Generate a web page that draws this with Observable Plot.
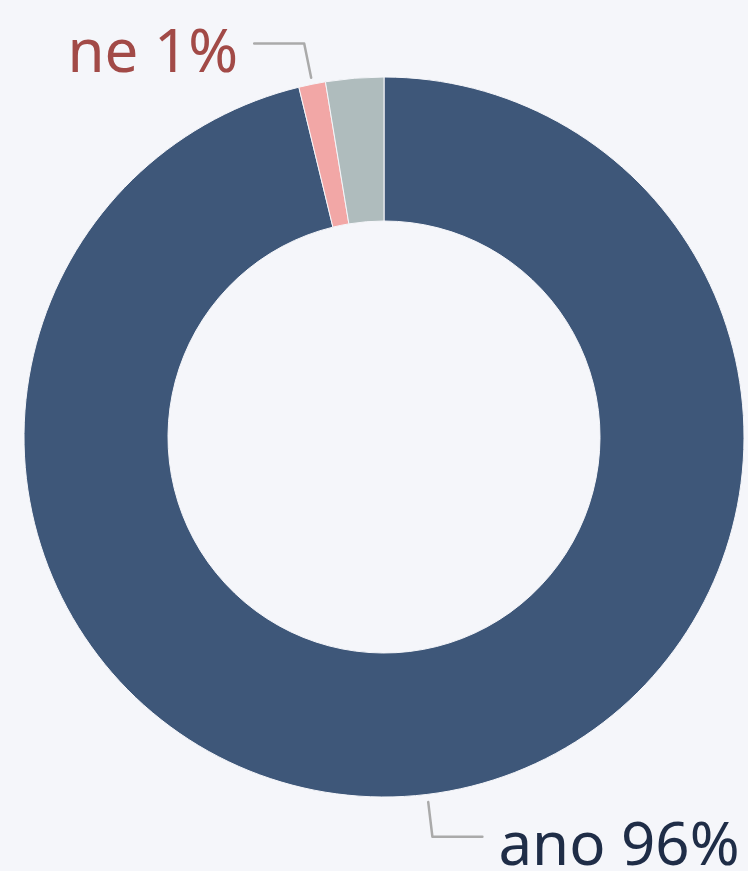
<!DOCTYPE html>
<html><head><meta charset="utf-8">
<script src="https://cdn.jsdelivr.net/npm/d3@7"></script>
<script src="https://cdn.jsdelivr.net/npm/@observablehq/plot@0.6"></script>
<style>html,body{margin:0;padding:0;background:#f5f6fa;overflow:hidden;}</style>
</head><body><div id="chart"></div>
<script>
// data
const categories = ["ano", "ne", "jiné"];
const values = [96.2, 1.2, 2.6];
const labels = ["ano 96%", "ne 1%", null];
const sliceColors = ["#3e5779", "#f2a7a6", "#afbcbd"];
const labelColors = ["#1f2d47", "#a24a47", null];

// layout
const W = 748, H = 871, CX = 384, CY = 437, R = 360, INNER = 0.6;
const bg = "#f5f6fa";

const rows = categories.map((c, i) => ({category: c, value: values[i], label: labels[i], color: sliceColors[i], labelColor: labelColors[i]}));
const arcs = d3.pie().sort(null).value(d => d.value)(rows);

// leader lines & label anchors (unit-radius coordinates, y up)
const R1 = 1.02, R2 = 1.117, HOR = 50 / R, GAP = 16 / R;
const leaders = [], texts = [];
arcs.forEach(a => {
  if (!a.data.label) return;
  const m = (a.startAngle + a.endAngle) / 2;
  const s = Math.sin(m), c = Math.cos(m), dir = s < 0 ? -1 : 1;
  const ex = R2 * s, ey = R2 * c;
  leaders.push({k: a.data.category, x: R1 * s, y: R1 * c});
  leaders.push({k: a.data.category, x: ex, y: ey});
  leaders.push({k: a.data.category, x: ex + dir * HOR, y: ey});
  texts.push({x: ex + dir * (HOR + GAP), y: ey, text: a.data.label, fill: a.data.labelColor, anchor: dir < 0 ? "end" : "start"});
});

function donut(index, scales, values, dimensions) {
  const sx = scales && typeof scales.x === "function" ? scales.x : (v => CX + v * R);
  const sy = scales && typeof scales.y === "function" ? scales.y : (v => CY - v * R);
  const cx = sx(0), cy = sy(0), r = sx(1) - sx(0);
  const arc = d3.arc().innerRadius(r * INNER).outerRadius(r);
  const g = d3.create("svg:g").attr("transform", `translate(${cx},${cy})`);
  g.selectAll("path").data(arcs).join("path")
    .attr("d", arc)
    .attr("fill", d => d.data.color)
    .attr("stroke", bg)
    .attr("stroke-width", 1);
  return g.node();
}

const plot = Plot.plot({
  width: W, height: H, margin: 0,
  style: {background: bg, fontFamily: "'Noto Sans', sans-serif"},
  x: {domain: [-CX / R, (W - CX) / R], range: [0, W], axis: null},
  y: {domain: [-(H - CY) / R, CY / R], range: [H, 0], axis: null},
  marks: [
    donut,
    Plot.line(leaders, {x: "x", y: "y", z: "k", stroke: "#aaaaaa", strokeWidth: 2.5, curve: "linear"}),
    Plot.text(texts.filter(t => t.anchor === "end"), {x: "x", y: "y", text: "text", fill: "fill", textAnchor: "end", fontSize: 60, dy: 9}),
    Plot.text(texts.filter(t => t.anchor === "start"), {x: "x", y: "y", text: "text", fill: "fill", textAnchor: "start", fontSize: 60, dy: 9})
  ]
});
document.getElementById("chart").appendChild(plot);
</script>
</body></html>
